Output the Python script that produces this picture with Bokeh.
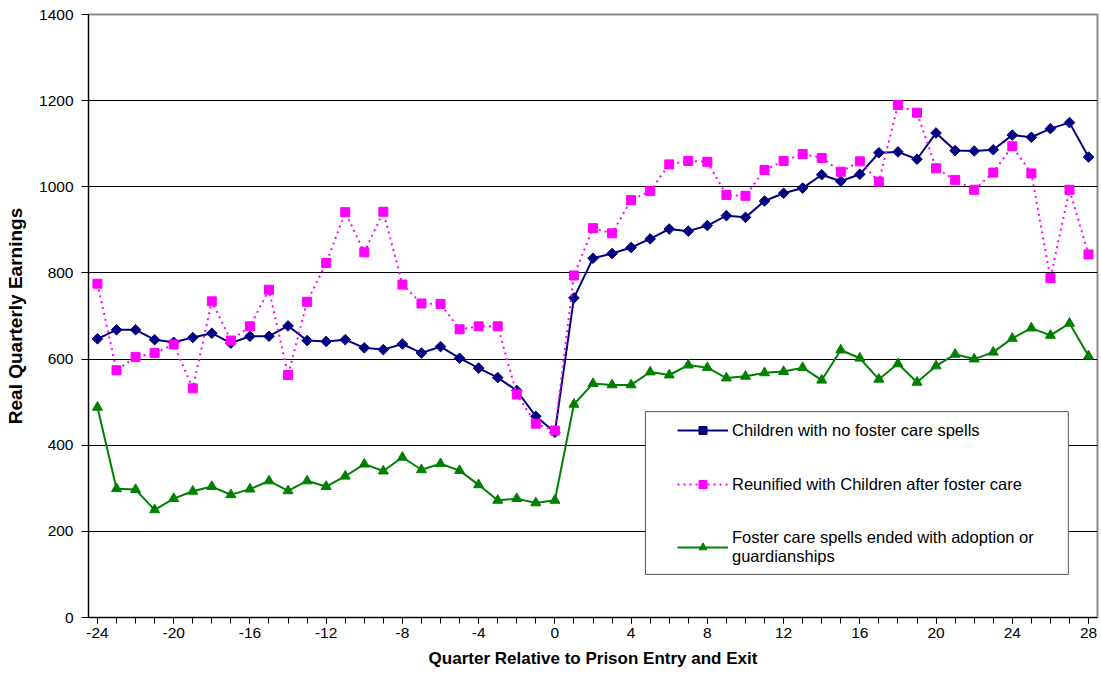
import numpy as np
from bokeh.plotting import figure
from bokeh.models import (Range1d, FixedTicker, Legend, LegendItem, BoxAnnotation,
                          ColumnDataSource, PrintfTickFormatter)
from bokeh.embed import file_html
from bokeh.resources import INLINE

# ---------------- data ----------------
quarters = list(range(-24, 29))

no_foster = [647, 668, 668, 645, 639, 650, 660, 637, 653, 653, 677, 643, 641, 645,
             626, 622, 635, 614, 629, 602, 579, 557, 527, 467, 430,
             742, 834, 845, 859, 879, 902, 897, 910, 933, 929, 967, 985, 997, 1028,
             1013, 1029, 1079, 1081, 1064, 1125, 1084, 1083, 1086, 1120, 1115, 1135,
             1149, 1069]

reunified = [775, 574, 605, 614, 634, 532, 734, 643, 676, 761, 563, 733, 823, 941,
             848, 942, 773, 729, 728, 669, 676, 676, 518, 450, 434,
             794, 904, 892, 969, 990, 1052, 1060, 1058, 981, 979, 1039, 1060, 1076,
             1067, 1035, 1059, 1012, 1190, 1172, 1043, 1016, 993, 1033, 1094, 1031,
             788, 993, 843]

adoption = [488, 299, 297, 250, 276, 293, 304, 285, 298, 317, 294, 317, 304, 328,
            356, 340, 372, 343, 357, 341, 308, 272, 276, 266, 272,
            495, 543, 540, 540, 570, 563, 586, 580, 556, 560, 568, 571, 580, 551,
            621, 602, 553, 589, 546, 584, 611, 600, 616, 648, 672, 655, 683, 607]

series_labels = ["Children with no foster care spells",
                 "Reunified with Children after foster care",
                 "Foster care spells ended with adoption or\nguardianships"]

x_major_ticks = list(range(-24, 29, 4))
x_minor_ticks = list(range(-24, 29, 1))
y_ticks = list(range(0, 1401, 200))

x_title = "Quarter Relative to Prison Entry and Exit"
y_title = "Real Quarterly Earnings"

FONT = "Liberation Sans"

src = ColumnDataSource(dict(q=quarters, a=no_foster, b=reunified, c=adoption))

p = figure(width=1101, height=675, output_backend="svg", toolbar_location=None,
           x_range=Range1d(-24.47, 28.47), y_range=Range1d(0, 1400),
           min_border_left=88, min_border_right=4, min_border_top=14,
           min_border_bottom=58)
p.background_fill_color = "white"
p.border_fill_color = "white"
p.outline_line_color = "#8c8c8c"
p.outline_line_width = 2

# grid
p.xgrid.grid_line_color = None
p.ygrid.grid_line_color = "black"
p.ygrid.grid_line_width = 1
p.ygrid.ticker = FixedTicker(ticks=y_ticks)

# axes
p.xaxis.ticker = FixedTicker(ticks=x_major_ticks, minor_ticks=x_minor_ticks)
p.yaxis.ticker = FixedTicker(ticks=y_ticks)
for ax in (p.xaxis[0], p.yaxis[0]):
    ax.formatter = PrintfTickFormatter(format="%d")
    ax.axis_line_color = "black"
    ax.major_tick_line_color = "black"
    ax.minor_tick_line_color = "black"
    ax.major_tick_in = 0
    ax.minor_tick_in = 0
    ax.major_label_text_font = FONT
    ax.major_label_text_font_size = "15.5px"
    ax.major_label_text_color = "black"
    ax.axis_label_text_font = FONT
    ax.axis_label_text_font_style = "bold"
    ax.axis_label_text_color = "black"

p.xaxis.major_tick_out = 6
p.xaxis.minor_tick_out = 6
p.xaxis.major_label_standoff = 4
p.xaxis.axis_label = x_title
p.xaxis.axis_label_text_font_size = "17px"
p.xaxis.axis_label_standoff = 8

p.yaxis.major_tick_out = 7
p.yaxis.minor_tick_out = 0
p.yaxis.major_label_standoff = 8
p.yaxis.axis_label = y_title
p.yaxis.axis_label_text_font_size = "19px"
p.yaxis.axis_label_standoff = 10

# series
navy, mag, grn = "#000080", "#FF00FF", "#008000"
la = p.line("q", "a", source=src, line_color=navy, line_width=2)
sa = p.scatter("q", "a", source=src, marker="square", angle=np.pi / 4, size=7.5,
               fill_color=navy, line_color=navy)
lb = p.line("q", "b", source=src, line_color=mag, line_width=2, line_dash="2 4")
sb = p.scatter("q", "b", source=src, marker="square", size=9,
               fill_color=mag, line_color=mag)
lc = p.line("q", "c", source=src, line_color=grn, line_width=2)
sc = p.scatter("q", "c", source=src, marker="triangle", size=10,
               fill_color=grn, line_color=grn)

# legend box
box = BoxAnnotation(left=4.75, right=26.94, bottom=100, top=478,
                    fill_color="white", fill_alpha=1.0,
                    line_color="#555555", line_width=1, line_alpha=1.0)
p.add_layout(box)

def make_legend(items, loc, spacing):
    lg = Legend(items=items, location=loc, orientation="vertical",
                padding=0, margin=0, spacing=spacing,
                glyph_width=51, glyph_height=20, label_height=20,
                label_standoff=4, label_text_font=FONT,
                label_text_font_size="16.5px", label_text_color="black",
                background_fill_alpha=0, border_line_alpha=0)
    return lg

leg1 = make_legend([LegendItem(label=series_labels[0], renderers=[la, sa]),
                    LegendItem(label=series_labels[1], renderers=[lb, sb])],
                   (589, 123), 34)
leg2 = make_legend([LegendItem(label=series_labels[2], renderers=[lc, sc])],
                   (589, 51), 0)
p.add_layout(leg1)
p.add_layout(leg2)

open("out.html", "w").write(file_html(p, INLINE))
